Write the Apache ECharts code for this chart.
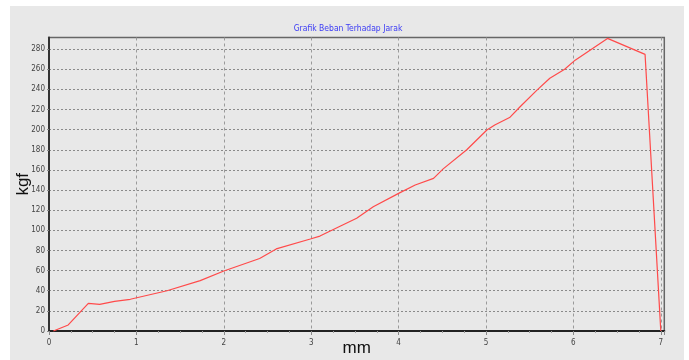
<!DOCTYPE html>
<html><head><meta charset="utf-8">
<script src="https://cdn.jsdelivr.net/npm/echarts@6/dist/echarts.min.js"></script>
<style>
html,body{margin:0;padding:0;background:#fff;width:689px;height:360px;overflow:hidden}
#chart{position:absolute;left:10px;top:6px;width:674px;height:354px;background:#e8e8e8}
</style></head>
<body><div id="chart"></div>
<script>
const titleText = 'Grafik Beban Terhadap Jarak';
const xName = 'mm';
const yName = 'kgf';
const distance = [0.05,0.22,0.45,0.58,0.75,0.93,1.35,1.73,2.0,2.41,2.6,2.99,3.1,3.33,3.52,3.71,4.0,4.19,4.4,4.51,4.78,5.01,5.1,5.27,5.39,5.58,5.73,5.9,6.02,6.39,6.82,7.0];
const load = [0,6,27.5,26.5,29.5,31.5,40,50,59.6,72,81.5,91.4,94.3,104,112,123.4,136.7,145,151.6,161,180,199.6,204.6,212,222.7,239,251,260,269,290.6,274.7,0];
const xMin = 0, xMax = 7.04, xStep = 1;
const yMin = 0, yMax = 291.5, yStep = 20;

const narrow = '"Liberation Sans Narrow","DejaVu Sans Condensed","Liberation Sans",Arial,sans-serif';
const chart = echarts.init(document.getElementById('chart'));
chart.setOption({
  animation:false,
  title:{text:titleText,left:333,top:13,textAlign:'center',textStyle:{color:'#3b3bf5',fontSize:8.5,fontWeight:'normal',fontFamily:narrow}},
  grid:{left:39,right:19.7,top:31.5,bottom:29,containLabel:false,outerBoundsMode:'none',show:true,borderColor:'#666',borderWidth:1.5,backgroundColor:'transparent'},
  xAxis:{type:'value',min:xMin,max:xMax,interval:xStep,
    name:xName,nameLocation:'middle',nameGap:9,nameMoveOverlap:false,
    nameTextStyle:{fontSize:17,color:'#111',fontFamily:'"Liberation Sans",Arial,sans-serif'},
    axisLine:{show:true,lineStyle:{color:'#222',width:2}},
    axisTick:{show:true,length:4,lineStyle:{color:'#888'}},
    minorTick:{show:true,splitNumber:4,length:2,lineStyle:{color:'#999'}},
    axisLabel:{fontSize:8,color:'#444',margin:8,fontFamily:narrow,showMaxLabel:false,
      formatter:v=>Math.abs(v-Math.round(v))<1e-6?String(Math.round(v)):''},
    splitLine:{show:true,showMinLine:false,showMaxLine:false,lineStyle:{color:'#9a9a9a',type:[3,3],width:1}}
  },
  yAxis:{type:'value',min:yMin,max:yMax,interval:yStep,
    name:yName,nameLocation:'middle',nameGap:17,nameRotate:90,nameMoveOverlap:false,
    nameTextStyle:{fontSize:17,color:'#111',fontFamily:'"Liberation Sans",Arial,sans-serif'},
    axisLine:{show:true,lineStyle:{color:'#333',width:2}},
    axisTick:{show:true,length:2,lineStyle:{color:'#888'}},
    axisLabel:{fontSize:8,color:'#444',margin:4,fontFamily:narrow,showMaxLabel:false,
      formatter:v=>(v%20===0)?String(v):''},
    splitLine:{show:true,showMinLine:false,showMaxLine:false,lineStyle:{color:'#8a8a8a',type:[2,2],width:1}}
  },
  series:[{type:'line',data:distance.map((x,i)=>[x,load[i]]),showSymbol:false,symbol:'none',
    lineStyle:{color:'#ff4a4a',width:1.2},clip:false}]
});
</script></body></html>
